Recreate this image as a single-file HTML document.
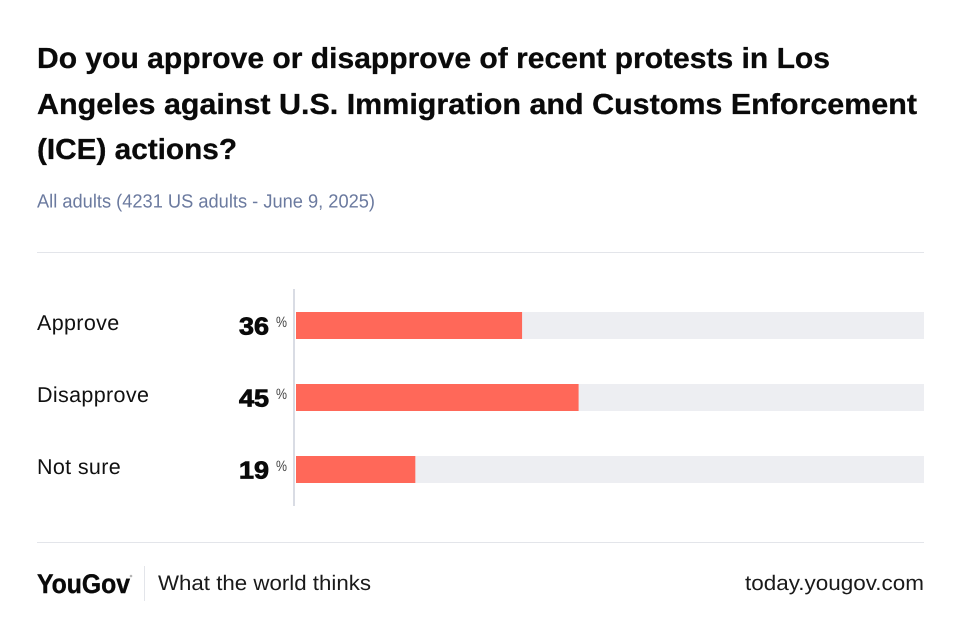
<!DOCTYPE html>
<html lang="en">
<head>
<meta charset="utf-8">
<title>Approve or disapprove of Los Angeles protests</title>
<style>
html,body{margin:0;padding:0;background:#fff;width:960px;height:638px;overflow:hidden}
svg{display:block}
text{font-family:"Liberation Sans",sans-serif;text-rendering:geometricPrecision}
</style>
</head>
<body>
<svg id="chart" width="960" height="638" viewBox="0 0 960 638" xmlns="http://www.w3.org/2000/svg">
<rect width="960" height="638" fill="#ffffff"/>
<text x="37" y="68" font-size="29" font-weight="700" fill="#0a0a0a" stroke="#0a0a0a" stroke-width="0.3" textLength="793" lengthAdjust="spacingAndGlyphs">Do you approve or disapprove of recent protests in Los</text>
<text x="37" y="114" font-size="29" font-weight="700" fill="#0a0a0a" stroke="#0a0a0a" stroke-width="0.3" textLength="880" lengthAdjust="spacingAndGlyphs">Angeles against U.S. Immigration and Customs Enforcement</text>
<text x="37" y="159" font-size="29" font-weight="700" fill="#0a0a0a" stroke="#0a0a0a" stroke-width="0.3" textLength="200" lengthAdjust="spacingAndGlyphs">(ICE) actions?</text>
<text x="37" y="207.5" font-size="19" fill="#6b7a9f" textLength="338" lengthAdjust="spacingAndGlyphs">All adults (4231 US adults - June 9, 2025)</text>
<rect x="37" y="252" width="887" height="1" fill="#e3e5ea"/>
<g id="plot"></g>
<rect x="37" y="542" width="887" height="1" fill="#e3e5ea"/>
<text x="37" y="593" font-size="27" font-weight="700" fill="#0a0a0a" stroke="#0a0a0a" stroke-width="0.4" textLength="93" lengthAdjust="spacingAndGlyphs">YouGov</text>
<circle cx="131" cy="576" r="1.3" fill="#b5b5b5"/>
<rect x="144" y="566" width="1" height="35" fill="#e3e5ea"/>
<text x="158" y="590" font-size="21" fill="#1a1a1a" textLength="213" lengthAdjust="spacingAndGlyphs">What the world thinks</text>
<text x="924" y="590" font-size="21" fill="#1a1a1a" text-anchor="end" textLength="179" lengthAdjust="spacingAndGlyphs">today.yougov.com</text>
</svg>
<script>
var categories = ["Approve", "Disapprove", "Not sure"];
var values = [36, 45, 19];
var axisMax = 100;

function xScale(v) { return 296 + (v / axisMax) * 628; }
function yScale(i) { return 312 + i * 72; }

var NS = "http://www.w3.org/2000/svg";
var plot = document.getElementById("plot");
function make(tag, attrs, content) {
  var el = document.createElementNS(NS, tag);
  for (var k in attrs) { el.setAttribute(k, attrs[k]); }
  if (content !== undefined) { el.textContent = content; }
  plot.appendChild(el);
  return el;
}

var axisLine = make("rect", {x: 293, y: 289, width: 2, height: 217, fill: "#d9dce4"});



categories.forEach(function (cat, i) {
  var y = yScale(i);

  var label = make("text", {x: 37, y: y + 18, "font-size": 21.5, "letter-spacing": 0.35, fill: "#111111"}, cat);
  
  

  var val = make("text", {x: 0, y: 0, transform: "translate(269," + (y + 22.5) + ") scale(1.1,1)", "font-size": 24.5, "font-weight": 700, fill: "#0a0a0a", "text-anchor": "end", stroke: "#0a0a0a", "stroke-width": 0.8}, String(values[i]));
  
  

  var pct = make("text", {x: 276, y: y + 15, "font-size": 15, fill: "#444444", textLength: 11, lengthAdjust: "spacingAndGlyphs"}, "%");
  
  

  var track = make("rect", {x: xScale(0), y: y, width: xScale(axisMax) - xScale(0), height: 27, fill: "#edeef2"});
  
  

  var bar = make("rect", {x: xScale(0), y: y, width: xScale(values[i]) - xScale(0), height: 27, fill: "#ff6859"});
  
  
});
</script>
</body>
</html>
